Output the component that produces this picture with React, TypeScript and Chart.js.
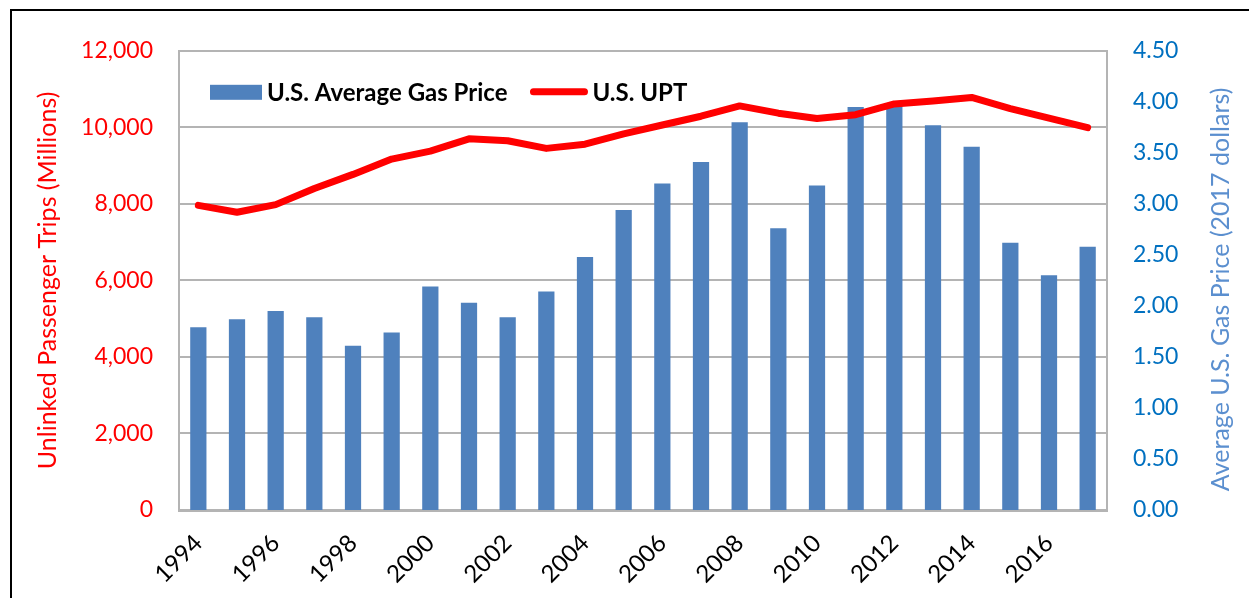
import React, { useEffect, useRef } from "react";
import { Chart, registerables } from "chart.js";

Chart.register(...registerables);

const years = [
  "1994", "1995", "1996", "1997", "1998", "1999", "2000", "2001", "2002", "2003", "2004", "2005",
  "2006", "2007", "2008", "2009", "2010", "2011", "2012", "2013", "2014", "2015", "2016", "2017",
];
const gasPrice = [
  1.79, 1.87, 1.95, 1.89, 1.61, 1.74, 2.19, 2.03, 1.89, 2.14, 2.48, 2.94,
  3.2, 3.41, 3.8, 2.76, 3.18, 3.95, 3.97, 3.77, 3.56, 2.62, 2.3, 2.58,
];
const upt = [
  7960, 7780, 7980, 8400, 8770, 9170, 9380, 9700, 9650, 9450, 9560, 9830,
  10060, 10290, 10560, 10370, 10230, 10330, 10610, 10690, 10780, 10490, 10240, 9990,
];
const gasLabel = "U.S. Average Gas Price";
const uptLabel = "U.S. UPT";
const leftTitle = "Unlinked Passenger Trips (Millions)";
const rightTitle = "Average U.S. Gas Price (2017 dollars)";

const FONT = "Lato, 'Noto Sans', sans-serif";
const BAR_COLOR = "#4F81BD";
const LINE_COLOR = "#FF0000";
const GRID = "#B4B4B4";

const overlayPlugin = {
  id: "overlay",
  afterDraw(chart: any) {
    const ctx = chart.ctx as CanvasRenderingContext2D;
    const area = chart.chartArea;
    ctx.save();
    // legend
    const y = area.top + 41;
    let x = area.left + 31;
    ctx.fillStyle = BAR_COLOR;
    ctx.fillRect(x, y - 7, 52, 15);
    x += 57;
    ctx.font = `bold 24px ${FONT}`;
    ctx.fillStyle = "#000";
    ctx.textBaseline = "middle";
    ctx.textAlign = "left";
    ctx.fillText(chart.data.datasets[1].label, x, y + 1);
    x += ctx.measureText(chart.data.datasets[1].label).width + 23;
    ctx.strokeStyle = LINE_COLOR;
    ctx.lineWidth = 7;
    ctx.lineCap = "round";
    ctx.beginPath();
    ctx.moveTo(x + 3, y);
    ctx.lineTo(x + 54, y);
    ctx.stroke();
    x += 62;
    ctx.fillText(chart.data.datasets[0].label, x, y + 1);
    // right axis title (reads bottom to top)
    ctx.translate(1209, (area.top + area.bottom) / 2 + 9);
    ctx.rotate(-Math.PI / 2);
    ctx.font = `25px ${FONT}`;
    ctx.fillStyle = "#5B8FCF";
    ctx.textAlign = "center";
    ctx.fillText(rightTitle, 0, 0);
    ctx.restore();
  },
};

export default function App() {
  const ref = useRef<HTMLCanvasElement | null>(null);

  useEffect(() => {
    if (!ref.current) return;
    const chart = new Chart(ref.current, {
      type: "bar",
      data: {
        labels: years,
        datasets: [
          {
            type: "line",
            label: uptLabel,
            data: upt,
            yAxisID: "y",
            borderColor: LINE_COLOR,
            backgroundColor: LINE_COLOR,
            borderWidth: 7,
            pointRadius: 0,
            tension: 0,
            borderCapStyle: "round",
            borderJoinStyle: "round",
            order: 0,
          } as any,
          {
            type: "bar",
            label: gasLabel,
            data: gasPrice,
            yAxisID: "y1",
            backgroundColor: BAR_COLOR,
            borderWidth: 0,
            categoryPercentage: 1,
            barPercentage: 0.42,
            order: 1,
          },
        ],
      },
      options: {
        responsive: false,
        animation: false,
        devicePixelRatio: 1,
        layout: { padding: { top: 38, left: 0, right: 0, bottom: 0 } },
        plugins: {
          legend: { display: false },
          tooltip: { enabled: false },
        },
        scales: {
          x: {
            grid: { display: false },
            border: { display: true, color: GRID, width: 3 },
            ticks: {
              autoSkip: false,
              maxRotation: 45,
              minRotation: 45,
              padding: 11,
              color: "#000",
              font: { family: FONT, size: 24 },
              callback: (_v: any, i: number) => (i % 2 === 0 ? years[i] : ""),
            },
            afterFit: (s: any) => {
              s.height = 89;
            },
          },
          y: {
            position: "left",
            min: 0,
            max: 12000,
            grid: { color: GRID, lineWidth: 2, drawTicks: false },
            border: { display: true, color: GRID, width: 2 },
            ticks: {
              stepSize: 2000,
              padding: 26,
              color: "#FF0000",
              font: { family: FONT, size: 23 },
              callback: (v: any) => Number(v).toLocaleString("en-US"),
            },
            title: {
              display: true,
              text: leftTitle,
              color: "#FF0000",
              font: { family: FONT, size: 25 },
              padding: { top: 21, bottom: 0 },
            },
            afterFit: (s: any) => {
              s.width = 167;
            },
          },
          y1: {
            position: "right",
            min: 0,
            max: 4.5,
            grid: { display: false, drawOnChartArea: false, drawTicks: false },
            border: { display: true, color: GRID, width: 2 },
            ticks: {
              stepSize: 0.5,
              padding: 26,
              color: "#0070C0",
              font: { family: FONT, size: 23 },
              callback: (v: any) => Number(v).toFixed(2),
            },
            afterFit: (s: any) => {
              s.width = 144;
            },
          },
        },
      },
      plugins: [overlayPlugin],
    });
    return () => chart.destroy();
  }, []);

  return (
    <div
      style={{
        position: "relative",
        left: 2,
        top: 1,
        width: 1239,
        borderTop: "2px solid #000",
        borderLeft: "2px solid #000",
        background: "#fff",
      }}
    >
      <canvas ref={ref} width={1239} height={588} style={{ display: "block", width: 1239, height: 588 }} />
    </div>
  );
}
